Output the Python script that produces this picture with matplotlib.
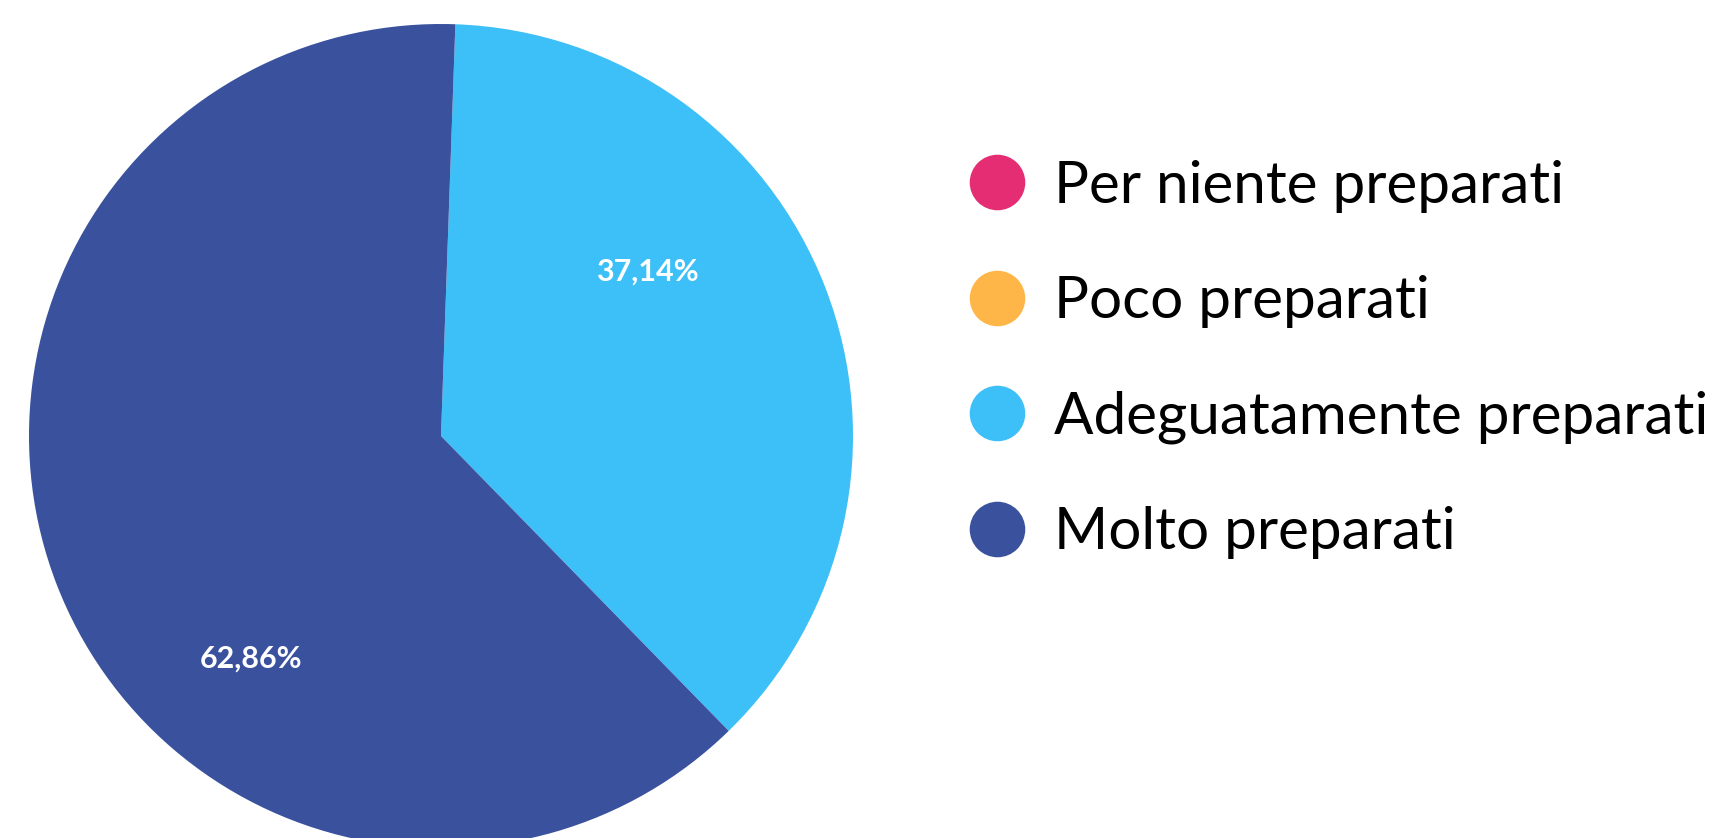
import matplotlib.pyplot as plt
from matplotlib.lines import Line2D

# Data
categories = ["Per niente preparati", "Poco preparati", "Adeguatamente preparati", "Molto preparati"]
values = [0, 0, 37.14, 62.86]
colors = ["#E52D74", "#FFB648", "#3DBFF8", "#3A529E"]

plt.rcParams['font.family'] = ['Lato', 'DejaVu Sans']

fig = plt.figure(figsize=(17.21, 8.38), dpi=100)
ax = fig.add_axes([29 / 1721, -10 / 838, 824 / 1721, 824 / 838])

wedges, _ = ax.pie(values, colors=colors, startangle=88, counterclock=False,
                   radius=1, wedgeprops=dict(linewidth=0))
ax.set_xlim(-1, 1)
ax.set_ylim(-1, 1)
ax.set_aspect('equal')
ax.axis('off')

# percentage labels
label_pos = {2: (0.50, 0.40), 3: (-0.46, -0.54)}
for i, (x, y) in label_pos.items():
    ax.text(x, y, f"{values[i]:.2f}%".replace('.', ','), color='white',
            fontsize=22, fontweight='bold', ha='center', va='center')

# legend
handles = [Line2D([0], [0], marker='o', linestyle='', markersize=40,
                  markerfacecolor=c, markeredgewidth=0) for c in colors]
fig.legend(handles, categories, loc='center left', bbox_to_anchor=(0.532, 0.571),
           frameon=False, fontsize=42, labelspacing=1.07, handletextpad=0.48,
           handlelength=1.0)

fig.savefig('out.png', dpi=100)
